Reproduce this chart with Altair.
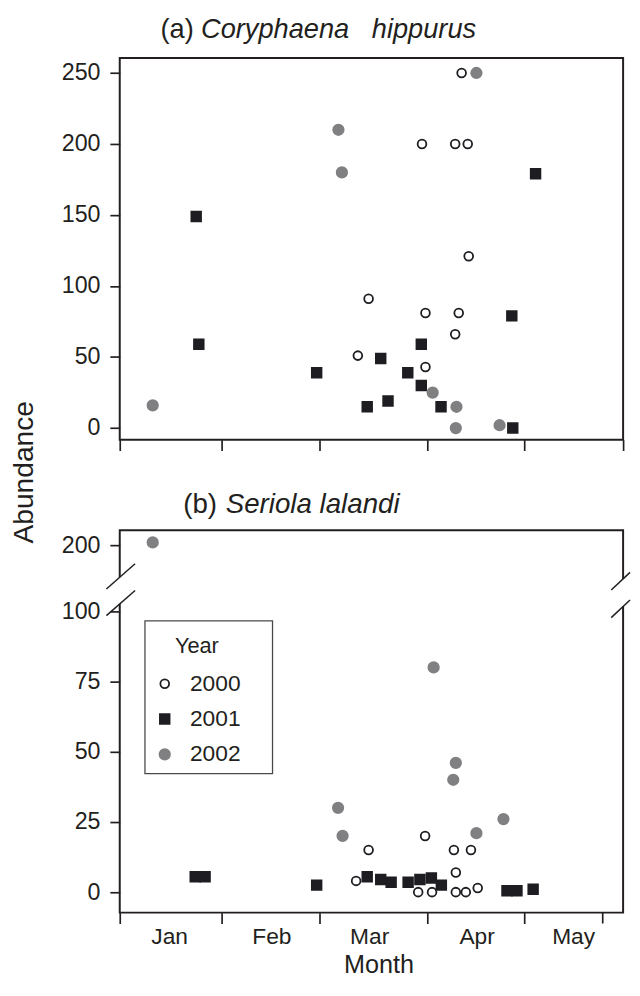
import altair as alt
import pandas as pd

# ---------------- data ----------------
years = ["2000", "2001", "2002"]
month_starts = [0, 31, 60, 91, 121, 152]          # day of year of each month start
month_names = ["Jan", "Feb", "Mar", "Apr", "May"]
a_ticks = [0, 50, 100, 150, 200, 250]
b_ticks = [0, 25, 50, 75, 100, 200]

# (a) Coryphaena hippurus  -- day of year, abundance
a2000_day = [101.7, 89.5, 99.7, 103.6, 103.9, 74.1, 90.5, 100.8, 99.7, 71.0, 90.5]
a2000_val = [250, 200, 200, 200, 121, 91, 81, 81, 66, 51, 43]
a2001_day = [23.2, 24.0, 124.7, 117.3, 59.1, 77.6, 89.3, 85.4, 89.3, 79.7, 73.7, 95.3, 117.6]
a2001_val = [149, 59, 179, 79, 39, 49, 59, 39, 30, 19, 15, 15, 0]
a2002_day = [106.3, 65.4, 66.4, 10.0, 92.7, 100.1, 99.9, 113.5]
a2002_val = [250, 210, 180, 16, 25, 15, 0, 2]

# (b) Seriola lalandi
b2000_day = [74.1, 90.4, 99.3, 104.6, 99.9, 70.5, 88.4, 92.5, 99.9, 103.0, 106.7]
b2000_val = [15, 20, 15, 15, 7, 4, 0, 0, 0, 0, 1.5]
b2001_day = [22.9, 25.9, 59.1, 73.7, 77.6, 80.6, 85.5, 88.9, 92.3, 95.4, 115.8, 118.9, 124.7]
b2001_val = [5.5, 5.5, 2.5, 5.5, 4.5, 3.5, 3.5, 4.5, 5, 2.5, 0.5, 0.5, 1]
b2002_day = [10.0, 93.0, 99.9, 99.1, 65.3, 66.6, 106.3, 114.7]
b2002_val = [201, 80, 46, 40, 30, 20, 21, 26]

BREAK_SHIFT = 76.5   # values above 100 are drawn shifted down (broken axis)


def table(pairs):
    rows = []
    for year, days, vals in pairs:
        for d, v in zip(days, vals):
            rows.append({"year": year, "day": d, "abundance": v})
    return pd.DataFrame(rows)


df_a = table([("2000", a2000_day, a2000_val), ("2001", a2001_day, a2001_val),
              ("2002", a2002_day, a2002_val)])
df_b = table([("2000", b2000_day, b2000_val), ("2001", b2001_day, b2001_val),
              ("2002", b2002_day, b2002_val)])
dummy = pd.DataFrame({"k": [0]})

# ---------------- styling ----------------
FONT = "Liberation Sans"
INK = "#231f20"
W, HA, HB = 509, 386, 386.6
NB = "\u00a0"

shape_s = alt.Scale(domain=years, range=["circle", "square", "circle"])
fill_s = alt.Scale(domain=years, range=["#ffffff", "#1d1d22", "#808083"])
stroke_s = alt.Scale(domain=years, range=["#1d1d22", "#1d1d22", "#808083"])
size_s = alt.Scale(domain=years, range=[78, 112, 108])
x_s = alt.Scale(domain=month_starts, range=[0, 103.3, 202.2, 310.9, 408.5, W])

month_expr = " : ".join(
    f"datum.value == {d} ? '{m}'" for d, m in zip(month_starts, month_names)) + " : ''"


def point_layer(df, y, legend):
    return alt.Chart(df).mark_point(filled=True, opacity=1, strokeWidth=1.8).encode(
        x=y[0],
        y=y[1],
        shape=alt.Shape("year:N", scale=shape_s, legend=legend),
        fill=alt.Fill("year:N", scale=fill_s, legend=legend),
        stroke=alt.Stroke("year:N", scale=stroke_s, legend=legend),
        size=alt.Size("year:N", scale=size_s, legend=legend),
    )


def text_layer(text, x, y, size, style="normal", angle=0, align="left"):
    return alt.Chart(dummy).mark_text(
        text=text, font=FONT, fontSize=size, fontStyle=style, color=INK,
        align=align, baseline="alphabetic", angle=angle
    ).encode(x=alt.value(x), y=alt.value(y))


def seg(x1, y1, x2, y2):
    return alt.Chart(dummy).mark_rule(color=INK, strokeWidth=1.5).encode(
        x=alt.value(x1), y=alt.value(y1), x2=alt.value(x2), y2=alt.value(y2))


def white_gap(x1, x2, y1, y2):
    return alt.Chart(dummy).mark_rect(color="white").encode(
        x=alt.value(x1), x2=alt.value(x2), y=alt.value(y1), y2=alt.value(y2))


# ---------------- panel (a) ----------------
xa = alt.X("day:Q", scale=x_s, title=None,
           axis=alt.Axis(values=month_starts, labels=False, tickSize=11))
ya = alt.Y("abundance:Q", title=None,
           scale=alt.Scale(domain=[-8.15, 260.6], nice=False, zero=False),
           axis=alt.Axis(values=a_ticks, tickSize=10, labelPadding=10))

anchor = alt.Chart(dummy).mark_rect(opacity=0).encode(
    x=alt.value(-111.5), x2=alt.value(-111), y=alt.value(-44), y2=alt.value(-43.5))

panel_a = alt.layer(
    anchor,
    point_layer(df_a, (xa, ya), None),
    text_layer("(a)", 41.2, -19.7, 27.5),
    text_layer(f"Coryphaena{NB}{NB}{NB}hippurus", 82.2, -19.7, 27.5, style="italic"),
    text_layer("Abundance", -87.8, 419, 28.5, angle=270, align="center"),
).properties(width=W, height=HA)

# ---------------- panel (b) ----------------
legend_b = alt.Legend(
    title="Year", orient="none", legendX=34, legendY=106.6, padding=0,
    titleFont=FONT, titleFontSize=22, titleFontWeight="normal", titleColor=INK,
    titleAnchor="middle", titlePadding=15,
    labelFont=FONT, labelFontSize=23, labelColor=INK, labelOffset=14,
    rowPadding=11.7, symbolStrokeWidth=1.8,
)

xb = alt.X("day:Q", scale=x_s, title=None,
           axis=alt.Axis(values=month_starts[:-1], tickSize=11, labelExpr=month_expr,
                         labelOffset=50, labelPadding=2, labelFlush=False,
                         labelOverlap=False, labelBound=False, labelFontSize=23))
yb = alt.Y("yplot:Q", title=None,
           scale=alt.Scale(domain=[-7.3, 128.8], nice=False, zero=False),
           axis=alt.Axis(values=[0, 25, 50, 75, 100, 200 - BREAK_SHIFT], tickSize=10,
                         labelPadding=10,
                         labelExpr="datum.value > 110 ? '200' : datum.label"))

pts_b = point_layer(df_b, (xb, yb), legend_b).transform_calculate(
    yplot=f"datum.abundance > 100 ? datum.abundance - {BREAK_SHIFT} : datum.abundance")

last_tick = alt.Chart(dummy).mark_rule(color=INK, strokeWidth=1.7).encode(
    x=alt.datum(month_starts[-1]), y=alt.value(HB), y2=alt.value(HB + 11))

legend_box = alt.Chart(dummy).mark_rect(fillOpacity=0, stroke="#4a4a4a", strokeWidth=1.3).encode(
    x=alt.value(25.5), x2=alt.value(154.5), y=alt.value(91.6), y2=alt.value(246))

panel_b = alt.layer(
    pts_b,
    last_tick,
    white_gap(-2.5, 2.5, 47.3, 74.4),
    white_gap(W - 2.5, W + 2.5, 49.3, 76.8),
    seg(-13.5, 59.3, 15.5, 33.8),
    seg(-13.5, 86.3, 15.5, 60.8),
    seg(497, 60.3, 516, 42.5),
    seg(497, 88.3, 516, 70.5),
    legend_box,
    text_layer("(b)", 64.2, -17.7, 28),
    text_layer("Seriola lalandi", 107.2, -17.7, 28, style="italic"),
    text_layer("Month", 262.2, 447.3, 25.5, align="center"),
).properties(width=W, height=HB)

chart = alt.vconcat(panel_a, panel_b, spacing=91.7, bounds="flush").resolve_legend(
    shape="independent", fill="independent", stroke="independent", size="independent"
).properties(
    padding={"left": 0, "top": 0, "right": 0, "bottom": 0}, background="white"
).configure_view(stroke=INK, strokeWidth=2).configure_axis(
    domain=False, grid=False, tickColor=INK, tickWidth=1.7,
    labelColor=INK, labelFont=FONT, labelFontSize=23.5,
)

chart.save("out.html", embed_options={"renderer": "svg", "actions": False})
